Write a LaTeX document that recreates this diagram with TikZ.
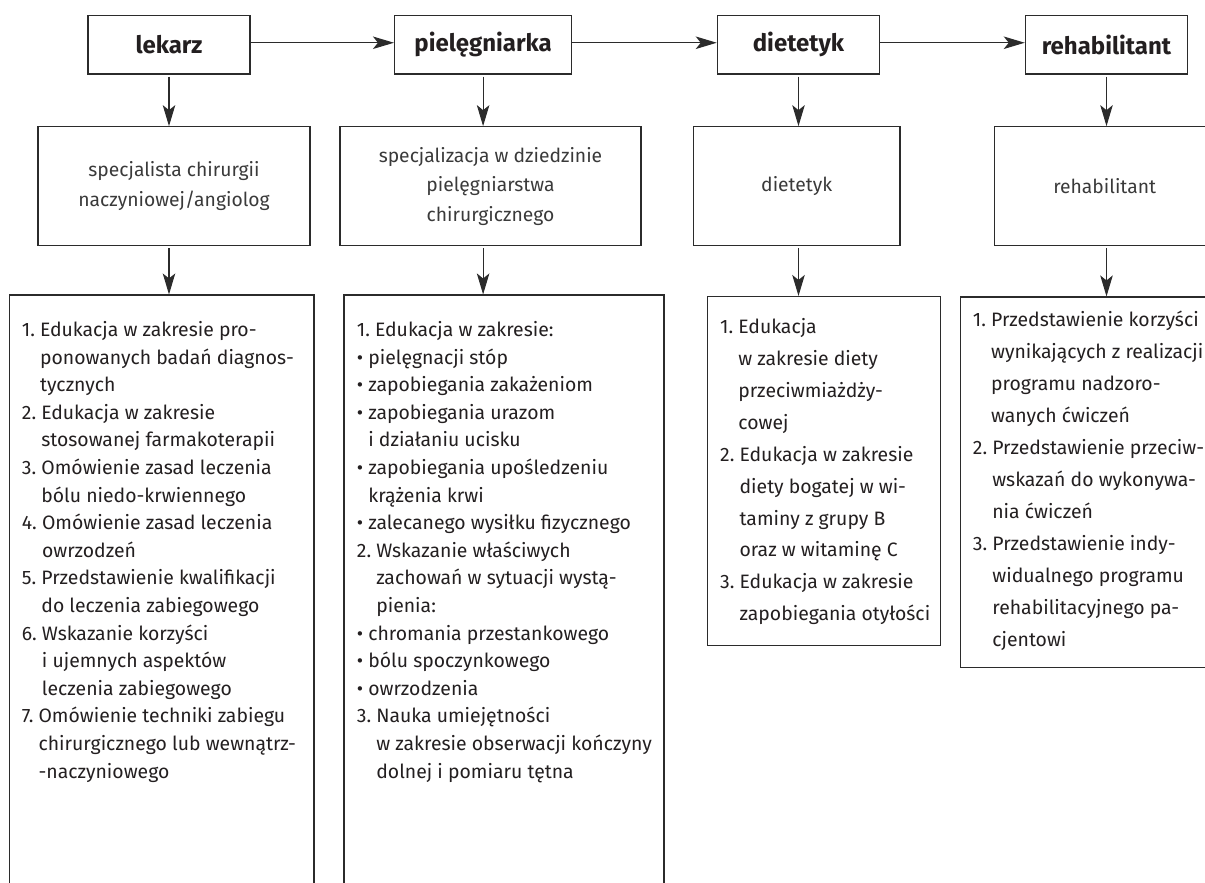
\documentclass[tikz,border=0pt]{standalone}
\usepackage{fontspec}
\setmainfont{Fira Sans}
\usetikzlibrary{arrows.meta}
\definecolor{ln}{HTML}{2B2B2B}
\definecolor{tx}{HTML}{231F20}
\definecolor{mt}{HTML}{3A3A3A}
\newcommand{\hang}[1]{\hphantom{#1~}}
\begin{document}
\begin{tikzpicture}[x=1pt,y=-1pt,
  box/.style={draw=ln, line width=1.1pt, inner sep=0pt, rectangle},
  topbox/.style={box, minimum height=58.7pt, text=tx, font=\bfseries\fontsize{24}{27}\selectfont},
  midbox/.style={box, minimum height=119pt, text=mt, align=center, font=\fontsize{19.3}{29.5}\selectfont},
  detbox/.style={box},
  arr/.style={draw=ln, line width=1.1pt, -{Stealth[length=21pt,width=12.5pt,inset=5pt]}},
  dtext/.style={inner sep=0pt, anchor=base west, align=left, text=tx, font=\frenchspacing\fontsize{19.4}{27.6}\selectfont},
  dtextb/.style={dtext, font=\frenchspacing\fontsize{19.4}{31.95}\selectfont},
]
\clip (0,0) rectangle (1205,883);
% top row
\node[topbox, minimum width=162pt]   (lek)  at (169,44.65)    {lekarz};
\node[topbox, minimum width=177.2pt] (piel) at (483.1,44.65)  {pielęgniarka};
\node[topbox, minimum width=162.4pt] (diet) at (798.5,44.65)  {dietetyk};
\node[topbox, minimum width=162.4pt] (reh)  at (1106.5,44.65) {rehabilitant};
% middle row
\node[midbox, minimum width=272pt]   (spec)  at (174,186.2)    {specjalista chirurgii\\naczyniowej/angiolog};
\node[midbox, minimum width=301pt]   (specz) at (490.5,186.2)  {specjalizacja w dziedzinie\\pielęgniarstwa\\chirurgicznego};
\node[midbox, minimum width=206.6pt] (mdiet) at (796.7,186.2)  {dietetyk};
\node[midbox, minimum width=220.7pt] (mreh)  at (1104.65,186.2) {rehabilitant};
% detail boxes
\node[detbox, minimum width=304.7pt, minimum height=605pt]   (d1) at (161.65,597.5) {};
\node[detbox, minimum width=320pt,   minimum height=605pt]   (d2) at (504,597.5)    {};
\node[detbox, minimum width=233pt,   minimum height=349.2pt] (d3) at (824,471.1)    {};
\node[detbox, minimum width=254.5pt, minimum height=370.7pt] (d4) at (1087.75,482.35) {};
% arrows
\draw[arr] ([yshift=1.9pt]lek.east)  -- ([yshift=1.9pt]piel.west);
\draw[arr] ([yshift=1.9pt]piel.east) -- ([yshift=1.9pt]diet.west);
\draw[arr] ([yshift=1.9pt]diet.east) -- ([yshift=1.9pt]reh.west);
\foreach \t/\m/\d in {lek/spec/d1, piel/specz/d2, diet/mdiet/d3, reh/mreh/d4}{
  \draw[arr] ([yshift=-2pt]\t.south) -- (\t.south |- \m.north);
  \draw[arr] ([yshift=-2pt]\t.south |- \m.south) -- (\t.south |- \d.north);
}
% texts (anchor = baseline of the last line)
\node[dtext] (t1) at (21.7,778.1) {1. Edukacja w zakresie pro-\\
\hang{1.}ponowanych badań diagnos-\\
\hang{1.}tycznych\\
2. Edukacja w zakresie\\
\hang{2.}stosowanej farmakoterapii\\
3. Omówienie zasad leczenia\\
\hang{3.}bólu niedo-krwiennego\\
4. Omówienie zasad leczenia\\
\hang{4.}owrzodzeń\\
5. Przedstawienie kwalifikacji\\
\hang{5.}do leczenia zabiegowego\\
6. Wskazanie korzyści\\
\hang{6.}i ujemnych aspektów\\
\hang{6.}leczenia zabiegowego\\
7. Omówienie techniki zabiegu\\
\hang{7.}chirurgicznego lub wewnątrz-\\
\hang{7.}-naczyniowego};
\node[dtext] (t2) at (356.7,778.1) {1. Edukacja w zakresie:\\
• pielęgnacji stóp\\
• zapobiegania zakażeniom\\
• zapobiegania urazom\\
\hang{•}i działaniu ucisku\\
• zapobiegania upośledzeniu\\
\hang{•}krążenia krwi\\
• zalecanego wysiłku fizycznego\\
2. Wskazanie właściwych\\
\hang{2.}zachowań w sytuacji wystą-\\
\hang{2.}pienia:\\
• chromania przestankowego\\
• bólu spoczynkowego\\
• owrzodzenia\\
3. Nauka umiejętności\\
\hang{3.}w zakresie obserwacji kończyny\\
\hang{3.}dolnej i pomiaru tętna};
\node[dtextb] (t3) at (720,620.85) {1. Edukacja\\
\hang{1.}w zakresie diety\\
\hang{1.}przeciwmiażdży-\\
\hang{1.}cowej\\
2. Edukacja w zakresie\\
\hang{2.}diety bogatej w wi-\\
\hang{2.}taminy z grupy B\\
\hang{2.}oraz w witaminę C\\
3. Edukacja w zakresie\\
\hang{3.}zapobiegania otyłości};
\node[dtextb] (t4) at (972.7,646.2) {1. Przedstawienie korzyści\\
\hang{1.}wynikających z realizacji\\
\hang{1.}programu nadzoro-\\
\hang{1.}wanych ćwiczeń\\
2. Przedstawienie przeciw-\\
\hang{2.}wskazań do wykonywa-\\
\hang{2.}nia ćwiczeń\\
3. Przedstawienie indy-\\
\hang{3.}widualnego programu\\
\hang{3.}rehabilitacyjnego pa-\\
\hang{3.}cjentowi};
\end{tikzpicture}
\end{document}
